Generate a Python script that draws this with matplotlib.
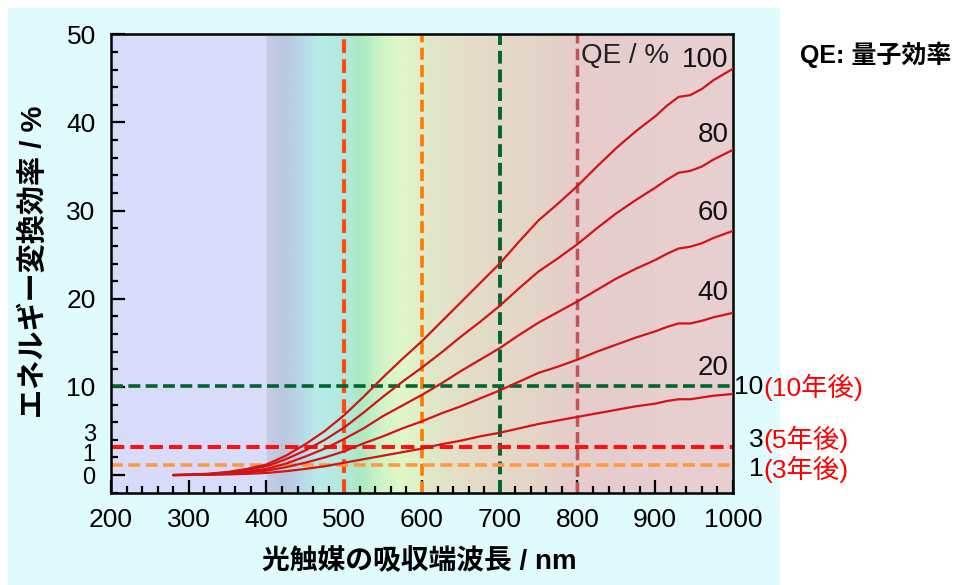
import numpy as np
import matplotlib
matplotlib.use("Agg")
import matplotlib.pyplot as plt
from matplotlib.colors import LinearSegmentedColormap
from matplotlib.patches import Rectangle
from matplotlib.ticker import MultipleLocator
from matplotlib.transforms import blended_transform_factory

plt.rcParams["font.family"] = ["Liberation Sans", "Noto Sans CJK JP"]

# ---- data ----
wavelength = [280, 300, 325, 350, 375, 400, 425, 450, 475, 500, 525, 550, 575,
              600, 625, 650, 675, 700, 725, 750, 775, 800, 825, 850, 875, 900,
              915, 930, 945, 960, 975, 1000]

eff_qe100 = [0.0, 0.05, 0.15, 0.35, 0.7, 1.2, 2.2, 3.5, 5.0, 6.8, 8.9, 11.1, 13.2,
             15.2, 17.4, 19.6, 21.8, 24.0, 26.5, 28.9, 30.8, 32.8, 35.0, 37.1, 39.0, 40.7,
             41.9, 42.9, 43.1, 43.8, 44.8, 46.1]
eff_qe80 = [0.0, 0.04, 0.1, 0.3, 0.6, 1.0, 1.8, 2.8, 4.0, 5.4, 7.1, 8.9, 10.6,
            12.2, 13.9, 15.7, 17.4, 19.2, 21.2, 23.1, 24.6, 26.2, 28.0, 29.7, 31.2, 32.6,
            33.5, 34.3, 34.5, 35.0, 35.8, 36.9]
eff_qe60 = [0.0, 0.03, 0.1, 0.2, 0.4, 0.7, 1.3, 2.1, 3.0, 4.1, 5.3, 6.7, 7.9,
            9.1, 10.4, 11.8, 13.1, 14.4, 15.9, 17.3, 18.5, 19.7, 21.0, 22.3, 23.4, 24.4,
            25.1, 25.7, 25.9, 26.3, 26.9, 27.7]
eff_qe40 = [0.0, 0.02, 0.06, 0.14, 0.3, 0.5, 0.9, 1.4, 2.0, 2.7, 3.6, 4.4, 5.3,
            6.1, 7.0, 7.8, 8.7, 9.6, 10.6, 11.6, 12.3, 13.1, 14.0, 14.8, 15.6, 16.3,
            16.8, 17.2, 17.2, 17.5, 17.9, 18.4]
eff_qe20 = [0.0, 0.01, 0.03, 0.07, 0.14, 0.24, 0.44, 0.7, 1.0, 1.4, 1.8, 2.2, 2.6,
            3.0, 3.5, 3.9, 4.4, 4.8, 5.3, 5.8, 6.2, 6.6, 7.0, 7.4, 7.8, 8.1,
            8.4, 8.6, 8.6, 8.8, 9.0, 9.2]
qe_labels = ["100", "80", "60", "40", "20"]

edge_lines = [500, 600, 700, 800]
target_eff = [10, 3, 1]
target_when = ["(10年後)", "(5年後)", "(3年後)"]

x_ticks = [200, 300, 400, 500, 600, 700, 800, 900, 1000]
y_ticks = [0, 10, 20, 30, 40, 50]

# background spectrum (wavelength, colour)
spec_nm = [200, 399.5, 401, 424, 444, 469, 502, 521, 547, 573, 611, 663, 753, 798, 1000]
spec_col = ["#d8dcfa", "#d8dcfa", "#c4cce2", "#b8c8e0", "#b8d8e8", "#b8ecea", "#b2e8da",
            "#a8eac2", "#cef4c8", "#e0f8c8", "#e0e8c8", "#e4dcc8", "#e4d4c8", "#e6cccc", "#e8d0d2"]

# ---- figure ----
fig = plt.figure(figsize=(9.54, 5.85), dpi=100)
fig.patches.append(Rectangle((8 / 954, 0), 772 / 954, 577 / 585, transform=fig.transFigure,
                             facecolor="#e0fbfc", edgecolor="none", zorder=-10))
ax = fig.add_axes([111 / 954, 1 - 492.7 / 585, 622 / 954, 458.4 / 585])

xmin, xmax, ymin, ymax = 200, 1000, -2, 50
pos = [(v - xmin) / (xmax - xmin) for v in spec_nm]
cmap = LinearSegmentedColormap.from_list("spec", list(zip(pos, spec_col)), N=1024)
ax.imshow(np.linspace(0, 1, 1024)[None, :], cmap=cmap, aspect="auto",
          extent=[xmin, xmax, ymin, ymax], zorder=0, interpolation="bilinear")

# guide lines
v_styles = [("#ff4a10", 3.0), ("#ff7a00", 2.6), ("#00662e", 2.8), ("#c45454", 2.5)]
for nm, (c, lw) in zip(edge_lines, v_styles):
    ax.axvline(nm, color=c, lw=lw, ls=(0, (3.3, 1.5)), zorder=2)
h_styles = [("#00662e", 2.6), ("#ff1010", 2.9), ("#ff9a40", 2.6)]
for val, (c, lw) in zip(target_eff, h_styles):
    ax.axhline(val + 0.15, color=c, lw=lw, ls=(0, (3.3, 1.5)), zorder=2)

# efficiency curves
for series in [eff_qe100, eff_qe80, eff_qe60, eff_qe40, eff_qe20]:
    ax.plot(wavelength, series, color="#d21414", lw=1.6, zorder=3,
            solid_capstyle="round")

# QE labels
ax.text(804, 47.5, "QE / %", fontsize=20, ha="left", va="center", color="#222222")
for lab, yy in zip(qe_labels, [47.1, 38.6, 29.7, 20.6, 12.2]):
    ax.text(994, yy, lab, fontsize=20, ha="right", va="center", color="#111111")

ax.set_xlim(xmin, xmax)
ax.set_ylim(ymin, ymax)
ax.set_xticks(x_ticks)
ax.set_yticks(y_ticks)
ax.set_yticklabels(["" if t == 0 else str(t) for t in y_ticks])
ax.xaxis.set_minor_locator(MultipleLocator(20))
ax.yaxis.set_minor_locator(MultipleLocator(2))
ax.tick_params(which="both", direction="in", top=False, right=False, width=1.6,
               labelsize=19, colors="black")
ax.tick_params(axis="x", which="major", length=9.5, pad=11)
ax.tick_params(axis="y", which="major", length=10, pad=11)
ax.tick_params(which="minor", length=5)
for sp in ax.spines.values():
    sp.set_linewidth(1.8)

# squeezed y labels near the bottom
trans = blended_transform_factory(ax.transAxes, ax.transData)
for txt, yy in [("0", -0.3), ("1", 2.3), ("3", 4.6)]:
    ax.annotate(txt, xy=(0, yy), xycoords=trans, xytext=(-11, 0),
                textcoords="offset points", ha="right", va="center", fontsize=17)

# targets on the right
for val, when, yy in zip(target_eff, target_when, [10.0, 4.0, 0.7]):
    ax.annotate(str(val), xy=(1, yy), xycoords=trans, xytext=(22, 0),
                textcoords="offset points", ha="right", va="center", fontsize=19,
                annotation_clip=False)
    ax.annotate(when, xy=(1, yy), xycoords=trans, xytext=(22, 0),
                textcoords="offset points", ha="left", va="center", fontsize=19,
                color="#ff0000", annotation_clip=False)

fig.text(33.5 / 954, 1 - 262 / 585, "エネルギー変換効率 / %", rotation=90, fontsize=21,
         fontweight="bold", ha="center", va="center")
fig.text(419 / 954, 1 - 562 / 585, "光触媒の吸収端波長 / nm", fontsize=20,
         fontweight="bold", ha="center", va="center")
fig.text(800 / 954, 1 - 55 / 585, "QE: 量子効率", fontsize=18, fontweight="bold",
         ha="left", va="center")

fig.savefig("out.png", dpi=100, facecolor="white")
